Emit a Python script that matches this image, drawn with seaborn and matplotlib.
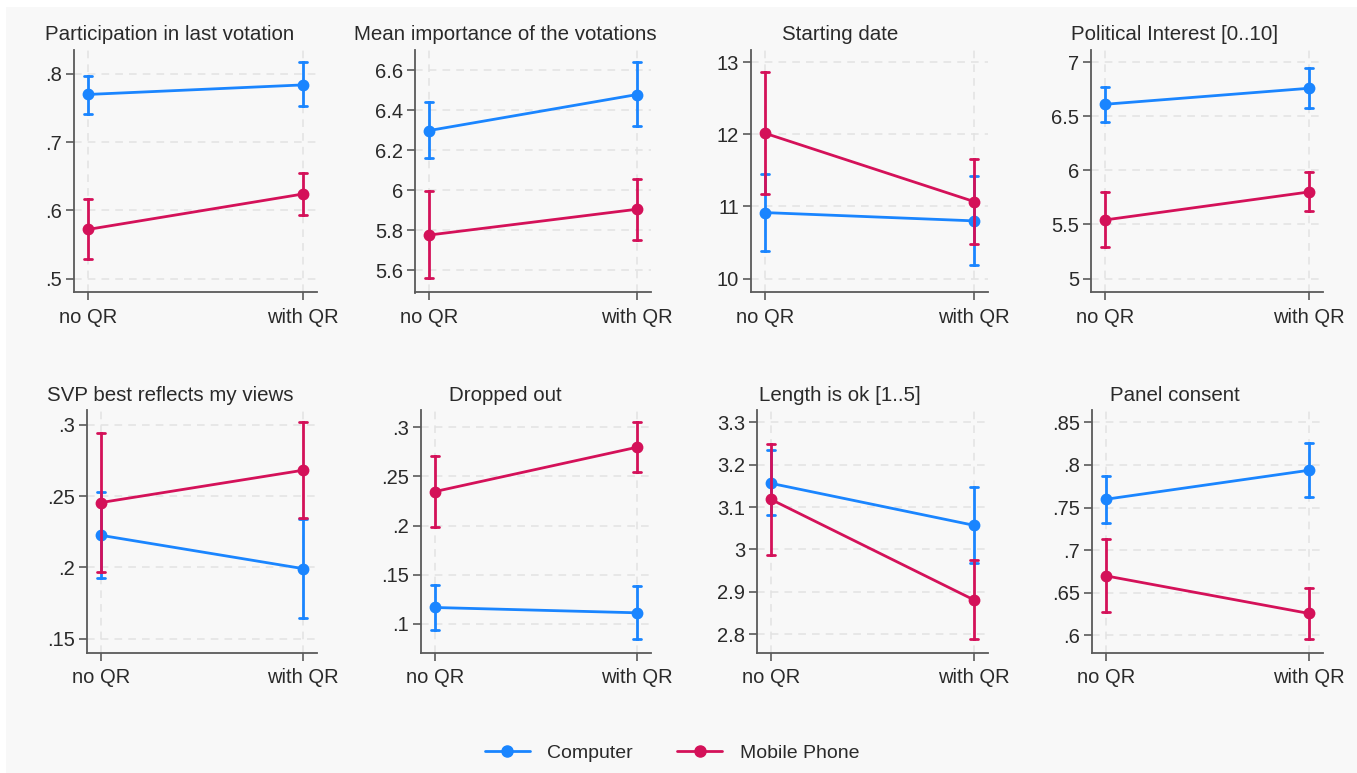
import numpy as np
import pandas as pd
import seaborn as sns
import matplotlib
matplotlib.use("Agg")
import matplotlib.pyplot as plt
from matplotlib.lines import Line2D
from matplotlib.patches import Rectangle

# ---------------- data ----------------
titles = ["Participation in last votation", "Mean importance of the votations",
          "Starting date", "Political Interest [0..10]",
          "SVP best reflects my views", "Dropped out",
          "Length is ok [1..5]", "Panel consent"]
conditions = ["no QR", "with QR"]
devices = ["Computer", "Mobile Phone"]

computer_mean = [[0.770, 0.784], [6.299, 6.479], [10.915, 10.80], [6.612, 6.760],
                 [0.2225, 0.1991], [0.1166, 0.1112], [3.156, 3.057], [0.7598, 0.7938]]
computer_lo = [[0.742, 0.7526], [6.164, 6.320], [10.384, 10.185], [6.451, 6.578],
               [0.1926, 0.1643], [0.0939, 0.0847], [3.081, 2.969], [0.732, 0.7621]]
computer_hi = [[0.797, 0.8176], [6.440, 6.642], [11.456, 11.428], [6.769, 6.945],
               [0.2527, 0.2342], [0.140, 0.138], [3.235, 3.147], [0.7871, 0.8258]]

mobile_mean = [[0.572, 0.624], [5.777, 5.906], [12.016, 11.068], [5.542, 5.801],
               [0.2455, 0.2682], [0.2346, 0.2797], [3.118, 2.881], [0.6699, 0.6258]]
mobile_lo = [[0.529, 0.593], [5.560, 5.753], [11.174, 10.480], [5.288, 5.622],
             [0.1966, 0.2345], [0.199, 0.2546], [2.987, 2.789], [0.6273, 0.5961]]
mobile_hi = [[0.617, 0.655], [5.996, 6.059], [12.861, 11.655], [5.801, 5.983],
             [0.2946, 0.3019], [0.2708, 0.3051], [3.249, 2.975], [0.7133, 0.6555]]

ytick_values = [[0.5, 0.6, 0.7, 0.8], [5.6, 5.8, 6.0, 6.2, 6.4, 6.6],
                [10, 11, 12, 13], [5, 5.5, 6, 6.5, 7],
                [0.15, 0.2, 0.25, 0.3], [0.1, 0.15, 0.2, 0.25, 0.3],
                [2.8, 2.9, 3.0, 3.1, 3.2, 3.3], [0.6, 0.65, 0.7, 0.75, 0.8, 0.85]]
ytick_labels = [[".5", ".6", ".7", ".8"], ["5.6", "5.8", "6", "6.2", "6.4", "6.6"],
                ["10", "11", "12", "13"], ["5", "5.5", "6", "6.5", "7"],
                [".15", ".2", ".25", ".3"], [".1", ".15", ".2", ".25", ".3"],
                ["2.8", "2.9", "3", "3.1", "3.2", "3.3"],
                [".6", ".65", ".7", ".75", ".8", ".85"]]
y_limits = [(0.4795, 0.8352), (5.490, 6.7015), (9.806, 13.171), (4.871, 7.114),
            (0.1402, 0.3105), (0.0708, 0.3176), (2.757, 3.329), (0.580, 0.8645)]

# ---------------- style ----------------
W, H = 1357, 773
BG = "#f8f8f8"
colors = {"Computer": "#1a85ff", "Mobile Phone": "#d41159"}
sns.set_theme(style="ticks")
plt.rcParams["font.family"] = ["Liberation Sans", "DejaVu Sans"]

fig = plt.figure(figsize=(W / 100, H / 100), dpi=100)
fig.patch.set_facecolor("white")
fig.patches.append(Rectangle((6 / W, 0), 1 - 6 / W, 1 - 7 / H, transform=fig.transFigure,
                             facecolor=BG, edgecolor="none", zorder=-10))

# axes pixel boxes: (left, right) per column, (top, bottom) per row
col_lr = [[(74, 317), (415, 651), (751, 988), (1091, 1323)],
          [(87, 317), (421, 651), (757, 988), (1092, 1323)]]
row_tb = [(50, 292.5), (410, 652.5)]
title_x = [170, 505, 840, 1175]
title_y = [40, 401]

spine_col = "#5a5a5a"
text_col = "#2a2a2a"


def errrange(v):
    return (np.min(v), np.max(v))


for i in range(8):
    r, c = divmod(i, 4)
    left, right = col_lr[r][c]
    top, bottom = row_tb[r]
    ax = fig.add_axes([left / W, 1 - bottom / H, (right - left) / W, (bottom - top) / H])
    ax.set_facecolor(BG)

    rows = []
    for dev, mean, lo, hi in [("Computer", computer_mean, computer_lo, computer_hi),
                              ("Mobile Phone", mobile_mean, mobile_lo, mobile_hi)]:
        for k, cond in enumerate(conditions):
            for v in (lo[i][k], mean[i][k], hi[i][k]):
                rows.append({"cond": cond, "device": dev, "value": v})
    df = pd.DataFrame(rows)

    sns.pointplot(data=df, x="cond", y="value", hue="device", order=conditions,
                  hue_order=devices, palette=colors, estimator="median",
                  errorbar=errrange, capsize=0.035, dodge=False, markers="o",
                  markersize=7, linewidth=2.0, err_kws={"linewidth": 2.0},
                  legend=False, ax=ax)

    w_px = right - left
    m = 14 / (w_px - 28)
    ax.set_xlim(-m, 1 + m)
    ax.set_ylim(*y_limits[i])
    ax.set_yticks(ytick_values[i])
    ax.set_yticklabels(ytick_labels[i])
    ax.set_xlabel("")
    ax.set_ylabel("")
    ax.grid(True, linestyle=(0, (5, 4)), color="#e2e2e2", linewidth=1.1)
    ax.set_axisbelow(True)
    for s in ["top", "right"]:
        ax.spines[s].set_visible(False)
    for s in ["left", "bottom"]:
        ax.spines[s].set_color(spine_col)
        ax.spines[s].set_linewidth(1.3)
    ax.tick_params(axis="both", colors=spine_col, labelcolor=text_col, labelsize=14.5,
                   length=5.5, width=1.2, pad=3)
    ax.tick_params(axis="x", pad=6)

    fig.text(title_x[c] / W, 1 - title_y[r] / H, titles[i], ha="center", va="baseline",
             fontsize=14.8, color=text_col)

handles = [Line2D([], [], color=colors[d], marker="o", markersize=8, linewidth=2.0)
           for d in devices]
fig.legend(handles, devices, loc="center", bbox_to_anchor=(672 / W, 1 - 753 / H), ncol=2,
           frameon=False, fontsize=14, handlelength=2.3, handletextpad=0.9,
           columnspacing=2.3, labelcolor=text_col)

fig.savefig("out.png", dpi=100, facecolor=fig.get_facecolor())
